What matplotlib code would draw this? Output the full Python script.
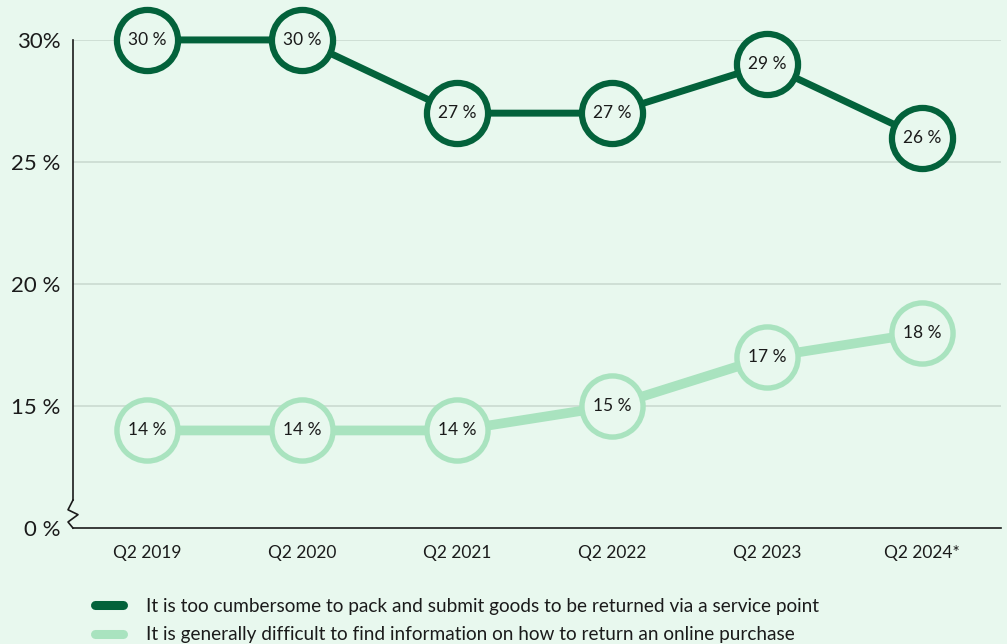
import matplotlib.pyplot as plt
from matplotlib.lines import Line2D
from matplotlib import transforms

plt.rcParams['font.family'] = ['Lato', 'DejaVu Sans']

quarters = ["Q2 2019", "Q2 2020", "Q2 2021", "Q2 2022", "Q2 2023", "Q2 2024*"]
cumbersome = [30, 30, 27, 27, 29, 26]
hard_to_find = [14, 14, 14, 15, 17, 18]
series_names = [
    "It is too cumbersome to pack and submit goods to be returned via a service point",
    "It is generally difficult to find information on how to return an online purchase",
]
ytick_values = [10, 15, 20, 25, 30]
ytick_labels = ["0 %", "15 %", "20 %", "25 %", "30%"]

bg = "#E8F8EE"
dark = "#03623B"
light = "#A9E3BF"
ink = "#1b1b1b"

fig = plt.figure(figsize=(10.07, 6.44), dpi=100, facecolor=bg)
ax = fig.add_axes([0.0725, 0.180, 0.9215, 0.758])
ax.set_facecolor(bg)

x = list(range(len(quarters)))

# gridlines, skipping the broken 0 % level
for v in ytick_values[1:]:
    ax.axhline(v, color="#CADBD0", lw=1.2, zorder=0)

ax.plot(x, hard_to_find, color=light, lw=7, zorder=2, clip_on=False)
ax.plot(x, hard_to_find, 'o', ms=44, mfc=bg, mec=light, mew=3.9, zorder=3, clip_on=False)
ax.plot(x, cumbersome, color=dark, lw=5, zorder=4, clip_on=False)
ax.plot(x, cumbersome, 'o', ms=44, mfc=bg, mec=dark, mew=4.5, zorder=5, clip_on=False)

for xi, v in zip(x, cumbersome):
    ax.text(xi, v, f"{v} %", ha="center", va="center", fontsize=12.5, color=ink, zorder=6)
for xi, v in zip(x, hard_to_find):
    ax.text(xi, v, f"{v} %", ha="center", va="center", fontsize=12.5, color=ink, zorder=6)

ax.set_xlim(-0.477, 5.51)
ax.set_ylim(10, 30)
ax.set_xticks(x)
ax.set_xticklabels(quarters, fontsize=12.5, color=ink)
ax.set_yticks(ytick_values)
ax.set_yticklabels(ytick_labels, fontsize=16, color=ink)
ax.tick_params(axis="both", length=0)
ax.tick_params(axis="x", pad=12)
ax.tick_params(axis="y", pad=9)

for s in ["top", "right"]:
    ax.spines[s].set_visible(False)
ax.spines["left"].set_bounds(11.15, 30)
ax.spines["left"].set_color(ink)
ax.spines["bottom"].set_color(ink)
ax.spines["left"].set_linewidth(1.2)
ax.spines["bottom"].set_linewidth(1.2)

# zigzag axis break
trans = transforms.blended_transform_factory(ax.transAxes, ax.transData)
dx = 1.0 / 928
zx = [0, -5 * dx, 5 * dx, -5 * dx, 0]
zy = [11.15, 10.75, 10.55, 10.25, 10.0]
ax.plot(zx, zy, color=ink, lw=1.2, transform=trans, clip_on=False)

handles = [
    Line2D([], [], color=dark, lw=6.5, solid_capstyle="round"),
    Line2D([], [], color=light, lw=6.5, solid_capstyle="round"),
]
fig.legend(handles, series_names, loc="upper left", bbox_to_anchor=(0.094, 0.072),
           frameon=False, fontsize=13.7, handlelength=1.5, handletextpad=1.2,
           labelspacing=0.62, borderaxespad=0, borderpad=0, labelcolor=ink)

fig.savefig("out.png", dpi=100, facecolor=bg)
